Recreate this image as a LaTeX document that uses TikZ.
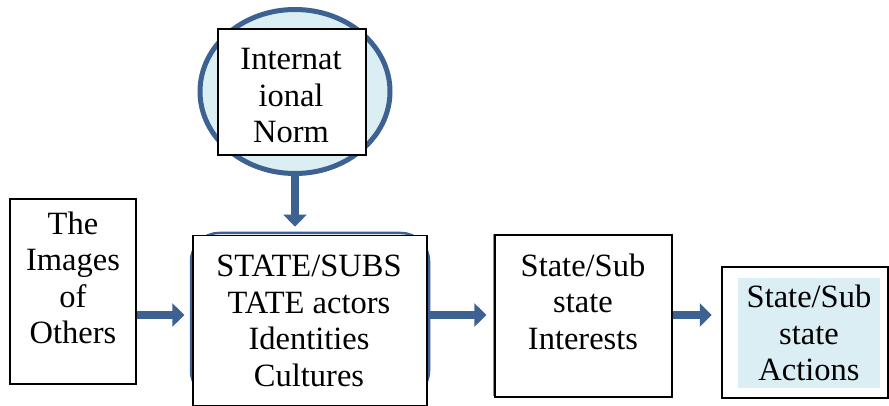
\documentclass[tikz,border=0pt]{standalone}
\usepackage{fontspec}
\setmainfont{Liberation Serif}
\usetikzlibrary{arrows.meta,shapes.geometric}
\definecolor{normblue}{HTML}{3D6190}
\definecolor{paleblue}{HTML}{DAEEF3}
\begin{document}
\begin{tikzpicture}[x=1pt,y=-1pt,
  box/.style={draw,line width=1.3pt,fill=white,inner sep=0pt},
  txt/.style={align=center,font=\fontsize{32.5}{36.5}\selectfont,inner sep=0pt},
  flow/.style={normblue,line width=8pt,-{Triangle[length=12pt,width=23pt]},shorten >=8pt}]
  \useasboundingbox (0,0) rectangle (889,406);
  \coordinate (mid) at (0,315);
  % international norm
  \node[ellipse,draw=normblue,line width=5pt,fill=paleblue,minimum width=190,minimum height=164] (normring) at (295,91.5) {};
  \node[box,minimum width=148,minimum height=126] (norm) at (292,92) {};
  \node[txt] (normtext) at (291,96) {Internat\\ional\\Norm};
  % the images of others
  \node[box,minimum width=126,minimum height=185] (others) at (73,291.5) {};
  \node[txt] (otherstext) at (73,278) {The\\Images\\of\\Others};
  % state/substate actors
  \node[draw=normblue,line width=2.5pt,rounded corners=28pt,minimum width=238,minimum height=166] (coreback) at (310,316) {};
  \node[box,minimum width=234,minimum height=170.5] (core) at (310,320.5) {};
  \node[txt] (coretext) at (309,321) {STATE/SUBS\\TATE actors\\Identities\\Cultures};
  % interests
  \node[draw=normblue!70,line width=1.5pt,minimum width=178,minimum height=160] (interestsback) at (583,315) {};
  \node[box,minimum width=177,minimum height=162] (interests) at (583.5,316) {};
  \node[txt] (intereststext) at (583,301.5) {State/Sub\\state\\Interests};
  % actions
  \node[box,line width=2.5pt,minimum width=166,minimum height=131] (actions) at (805,332.5) {};
  \node[txt,fill=paleblue,minimum width=142,minimum height=110] (actionstext) at (809,333) {State/Sub\\state\\Actions};
  % arrows
  \draw[flow] (normring.south) -- (normring.south |- core.north);
  \draw[flow] (others.east |- mid) -- (core.west |- mid);
  \draw[flow] (core.east |- mid) -- (interests.west |- mid);
  \draw[flow,shorten >=9pt] (interests.east |- mid) -- (actions.west |- mid);
\end{tikzpicture}
\end{document}
